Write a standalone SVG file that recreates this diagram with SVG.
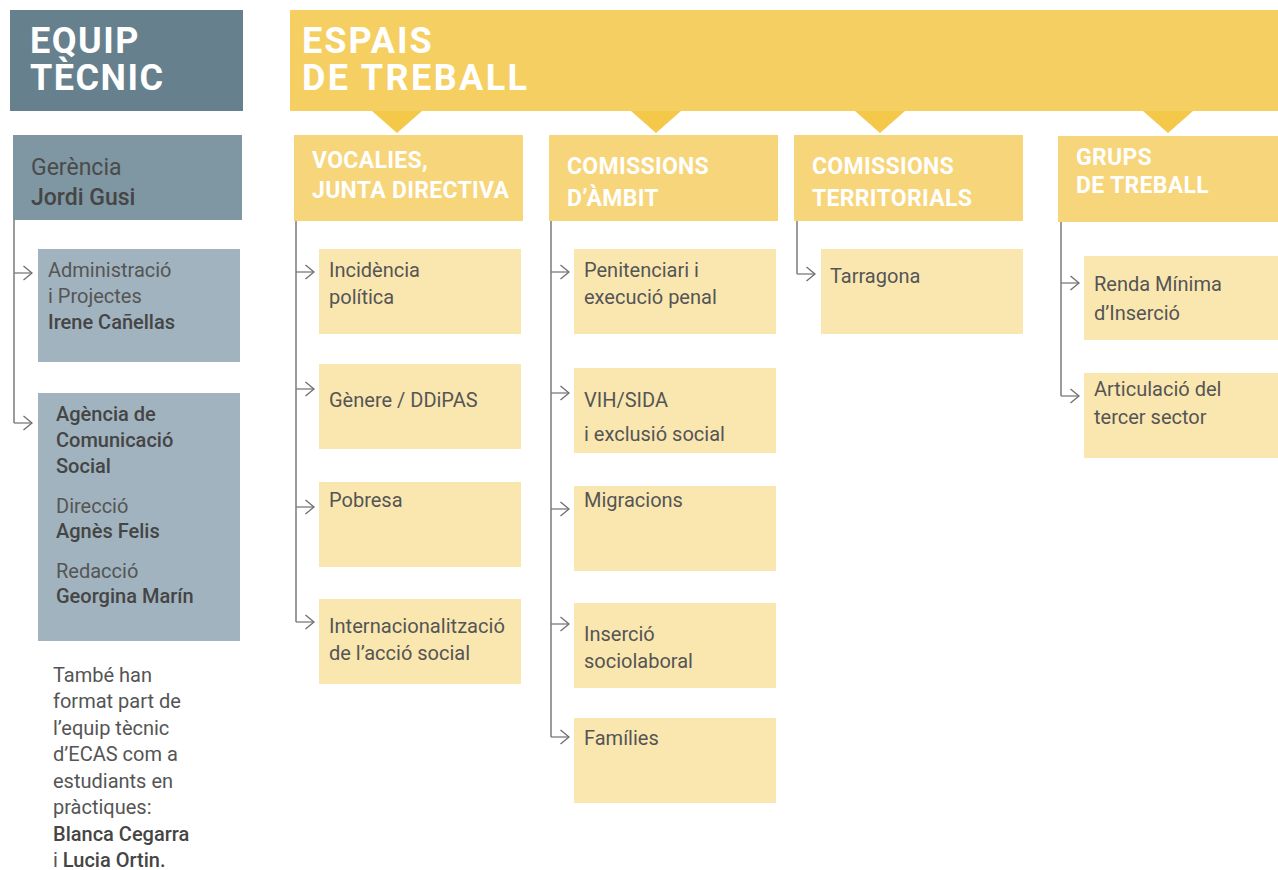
<svg xmlns="http://www.w3.org/2000/svg" width="1278" height="870" viewBox="0 0 1278 870">
<defs>
<marker id="arr" viewBox="0 0 10 16" refX="9.5" refY="8" markerWidth="10" markerHeight="16" markerUnits="userSpaceOnUse" orient="auto">
<path d="M1,1 L9.5,8 L1,15" fill="none" stroke="#6e6e6e" stroke-width="1.3"/>
</marker>
</defs>
<style>
.big{font-family:Roboto,"Liberation Sans",sans-serif;font-weight:700;font-size:36px;fill:#fff}
.hd{font-family:Roboto,"Liberation Sans",sans-serif;font-weight:700;font-size:23px;letter-spacing:0.3px;fill:#fff}
.t{font-family:Roboto,"Liberation Sans",sans-serif;font-size:20px;fill:#555}
.g{font-family:Roboto,"Liberation Sans",sans-serif;font-size:23px;fill:#4a4a4a}
.b{font-weight:500;fill:#454545}
.hy{fill:#f6cf62}
.tri{fill:#f4c94a}
.cy{fill:#f7d57a}
.ly{fill:#fae7b0}
.line{fill:none;stroke:#7a7a7a;stroke-width:1.5}
.arrow{fill:none;stroke:#7a7a7a;stroke-width:1.3;marker-end:url(#arr)}
</style>
<rect width="1278" height="870" fill="#fff"/>

<g id="equip-tecnic">
<rect x="10" y="10" width="233" height="101" fill="#66808e"/>
<text class="big" letter-spacing="1.5"><tspan x="30" y="53">EQUIP</tspan><tspan x="30" y="90">TÈCNIC</tspan></text>
</g>

<g id="espais-de-treball">
<rect class="hy" x="290" y="10" width="988" height="101"/>
<text class="big"><tspan x="302" y="53" letter-spacing="2">ESPAIS</tspan><tspan x="302" y="90" letter-spacing="2.4">DE TREBALL</tspan></text>
<polygon class="tri" points="372,111 422,111 397,133"/>
<polygon class="tri" points="631,111 681,111 656,133"/>
<polygon class="tri" points="855,111 905,111 880,133"/>
<polygon class="tri" points="1143,111 1193,111 1168,133"/>
</g>

<g id="connectors">
<path class="line" d="M14,220 V423"/>
<path class="arrow" d="M14,273 H32"/>
<path class="arrow" d="M14,423 H32"/>
<path class="line" d="M296,220 V622"/>
<path class="arrow" d="M296,272 H314"/>
<path class="arrow" d="M296,389 H314"/>
<path class="arrow" d="M296,507 H314"/>
<path class="arrow" d="M296,622 H314"/>
<path class="line" d="M551,220 V737"/>
<path class="arrow" d="M551,272 H569"/>
<path class="arrow" d="M551,393 H569"/>
<path class="arrow" d="M551,509 H569"/>
<path class="arrow" d="M551,624 H569"/>
<path class="arrow" d="M551,737 H569"/>
<path class="line" d="M797,220 V274"/>
<path class="arrow" d="M797,274 H815"/>
<path class="line" d="M1061,222 V396"/>
<path class="arrow" d="M1061,283 H1079"/>
<path class="arrow" d="M1061,396 H1079"/>
</g>

<g id="gerencia">
<rect x="13" y="135" width="229" height="85" fill="#7f96a3"/>
<text class="g" x="31" y="175">Gerència</text>
<text class="g b" x="31" y="205">Jordi Gusi</text>
</g>

<g id="administracio">
<rect x="38" y="249" width="202" height="113" fill="#a0b3be"/>
<text class="t" x="48" y="277">Administració</text>
<text class="t" x="48" y="303">i Projectes</text>
<text class="t b" x="48" y="329">Irene Cañellas</text>
</g>

<g id="agencia">
<rect x="38" y="393" width="202" height="248" fill="#a0b3be"/>
<text class="t b" x="56" y="421">Agència de</text>
<text class="t b" x="56" y="447">Comunicació</text>
<text class="t b" x="56" y="473">Social</text>
<text class="t" x="56" y="513">Direcció</text>
<text class="t b" x="56" y="538">Agnès Felis</text>
<text class="t" x="56" y="578">Redacció</text>
<text class="t b" x="56" y="603">Georgina Marín</text>
</g>

<g id="nota">
<text class="t" x="53" y="682">També han</text>
<text class="t" x="53" y="708">format part de</text>
<text class="t" x="53" y="735">l’equip tècnic</text>
<text class="t" x="53" y="761">d’ECAS com a</text>
<text class="t" x="53" y="788">estudiants en</text>
<text class="t" x="53" y="814">pràctiques:</text>
<text class="t b" x="53" y="841">Blanca Cegarra</text>
<text class="t" x="53" y="867">i <tspan class="b">Lucia Ortin.</tspan></text>
</g>

<g id="vocalies">
<rect class="cy" x="294" y="135" width="229" height="86"/>
<text class="hd" x="312" y="168">VOCALIES,</text>
<text class="hd" x="312" y="198">JUNTA DIRECTIVA</text>
</g>
<g id="incidencia">
<rect class="ly" x="319" y="249" width="202" height="85"/>
<text class="t" x="329" y="277">Incidència</text>
<text class="t" x="329" y="304">política</text>
</g>
<g id="genere">
<rect class="ly" x="319" y="364" width="202" height="85"/>
<text class="t" x="329" y="407">Gènere / DDiPAS</text>
</g>
<g id="pobresa">
<rect class="ly" x="319" y="482" width="202" height="85"/>
<text class="t" x="329" y="507">Pobresa</text>
</g>
<g id="internacionalitzacio">
<rect class="ly" x="319" y="599" width="202" height="85"/>
<text class="t" x="329" y="633" textLength="176" lengthAdjust="spacingAndGlyphs">Internacionalització</text>
<text class="t" x="329" y="660">de l’acció social</text>
</g>

<g id="comissions-ambit">
<rect class="cy" x="549" y="135" width="229" height="86"/>
<text class="hd" x="567" y="174">COMISSIONS</text>
<text class="hd" x="567" y="206">D’ÀMBIT</text>
</g>
<g id="penitenciari">
<rect class="ly" x="574" y="249" width="202" height="85"/>
<text class="t" x="584" y="277">Penitenciari i</text>
<text class="t" x="584" y="304">execució penal</text>
</g>
<g id="vih">
<rect class="ly" x="574" y="368" width="202" height="85"/>
<text class="t" x="584" y="407">VIH/SIDA</text>
<text class="t" x="584" y="441">i exclusió social</text>
</g>
<g id="migracions">
<rect class="ly" x="574" y="486" width="202" height="85"/>
<text class="t" x="584" y="507">Migracions</text>
</g>
<g id="insercio">
<rect class="ly" x="574" y="603" width="202" height="85"/>
<text class="t" x="584" y="641">Inserció</text>
<text class="t" x="584" y="668">sociolaboral</text>
</g>
<g id="families">
<rect class="ly" x="574" y="718" width="202" height="85"/>
<text class="t" x="584" y="745">Famílies</text>
</g>

<g id="comissions-territorials">
<rect class="cy" x="794" y="135" width="229" height="86"/>
<text class="hd" x="812" y="174">COMISSIONS</text>
<text class="hd" x="812" y="206">TERRITORIALS</text>
</g>
<g id="tarragona">
<rect class="ly" x="821" y="249" width="202" height="85"/>
<text class="t" x="830" y="283">Tarragona</text>
</g>

<g id="grups-treball">
<rect class="cy" x="1058" y="136" width="220" height="86"/>
<text class="hd" x="1076" y="165">GRUPS</text>
<text class="hd" x="1076" y="193">DE TREBALL</text>
</g>
<g id="renda">
<rect class="ly" x="1084" y="256" width="194" height="84"/>
<text class="t" x="1094" y="291">Renda Mínima</text>
<text class="t" x="1094" y="320">d’Inserció</text>
</g>
<g id="articulacio">
<rect class="ly" x="1084" y="373" width="194" height="85"/>
<text class="t" x="1094" y="396">Articulació del</text>
<text class="t" x="1094" y="424">tercer sector</text>
</g>
</svg>
